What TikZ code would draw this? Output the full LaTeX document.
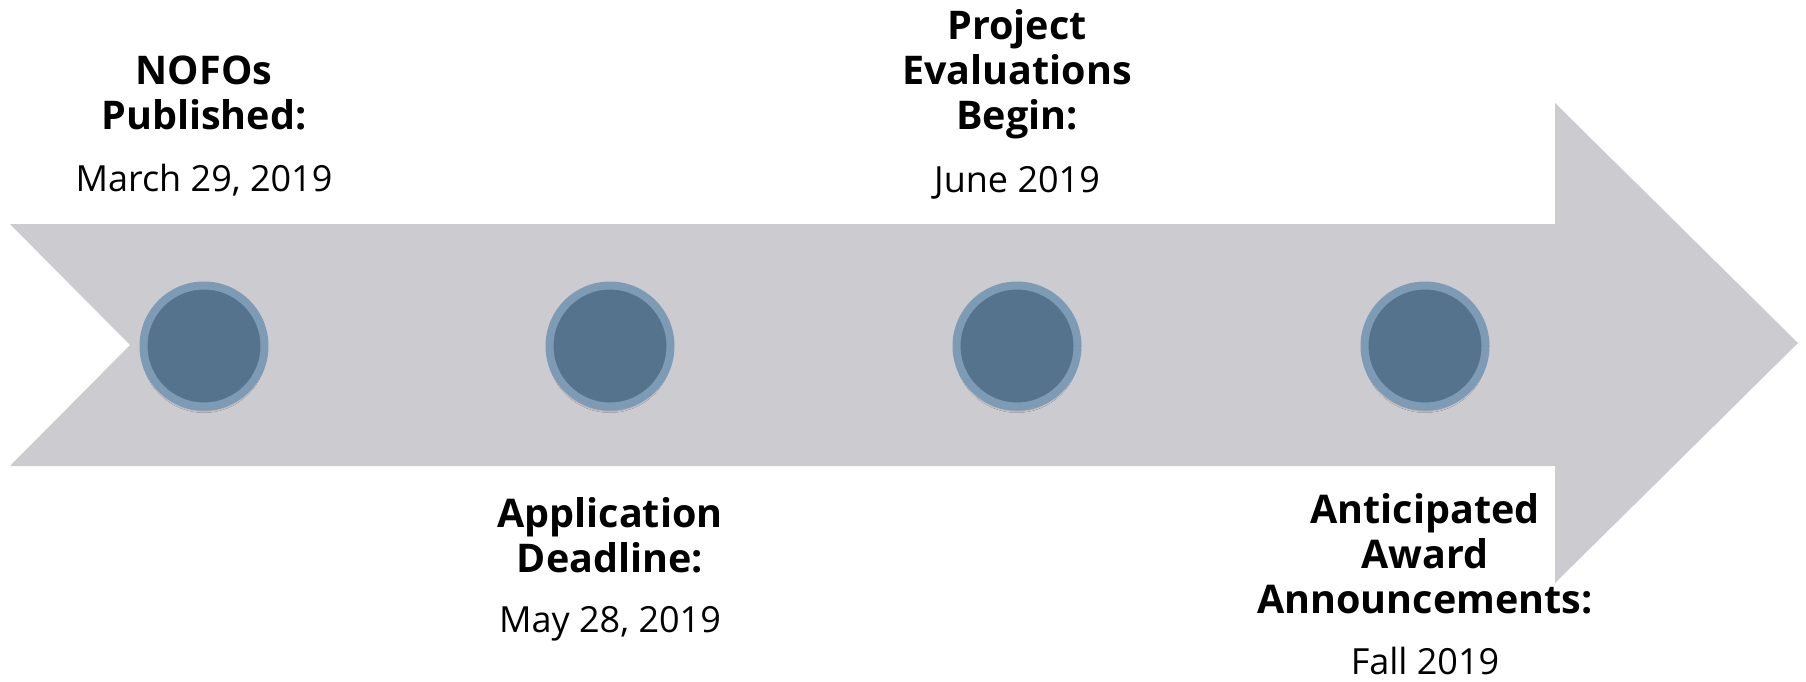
\documentclass[tikz,border=0pt]{standalone}
\usepackage{fontspec}
\setmainfont{Open Sans}
\usetikzlibrary{shadows.blur}
\definecolor{arrowgray}{RGB}{203,203,208}
\definecolor{dotfill}{RGB}{85,115,140}
\definecolor{dotring}{RGB}{126,155,182}
\begin{document}
\begin{tikzpicture}[x=1pt,y=-1pt,
  dot/.style={circle, fill=dotfill, draw=dotring, line width=8pt, minimum size=121pt, inner sep=0pt,
    blur shadow={shadow xshift=0pt, shadow yshift=-4pt, shadow blur steps=6, shadow opacity=35}},
  title/.style={font=\fontsize{39.5}{45}\selectfont\bfseries, align=center, anchor=base, inner sep=0pt},
  datelbl/.style={font=\fontsize{36}{40}\selectfont, anchor=base, inner sep=0pt}]
\useasboundingbox[fill=white] (0,0) rectangle (1806,681);
\fill[arrowgray] (10,224) -- (1555,224) -- (1555,103) -- (1798,343) -- (1555,583) -- (1555,466) -- (10,466) -- (130,345) -- cycle;
\node[dot] (d1) at (204,346) {};
\node[dot] (d2) at (610,346) {};
\node[dot] (d3) at (1017,346) {};
\node[dot] (d4) at (1425,346) {};
\node[title] (t1) at (204,129) {NOFOs\\Published:};
\node[datelbl] (l1) at (204,191) {March 29, 2019};
\node[title] (t2) at (610,572) {Application\\Deadline:};
\node[datelbl] (l2) at (610,632) {May 28, 2019};
\node[title] (t3) at (1017,129) {Project\\Evaluations\\Begin:};
\node[datelbl] (l3) at (1017,192) {June 2019};
\node[title] (t4) at (1425,613) {Anticipated\\Award\\Announcements:};
\node[datelbl] (l4) at (1425,674) {Fall 2019};
\end{tikzpicture}
\end{document}
